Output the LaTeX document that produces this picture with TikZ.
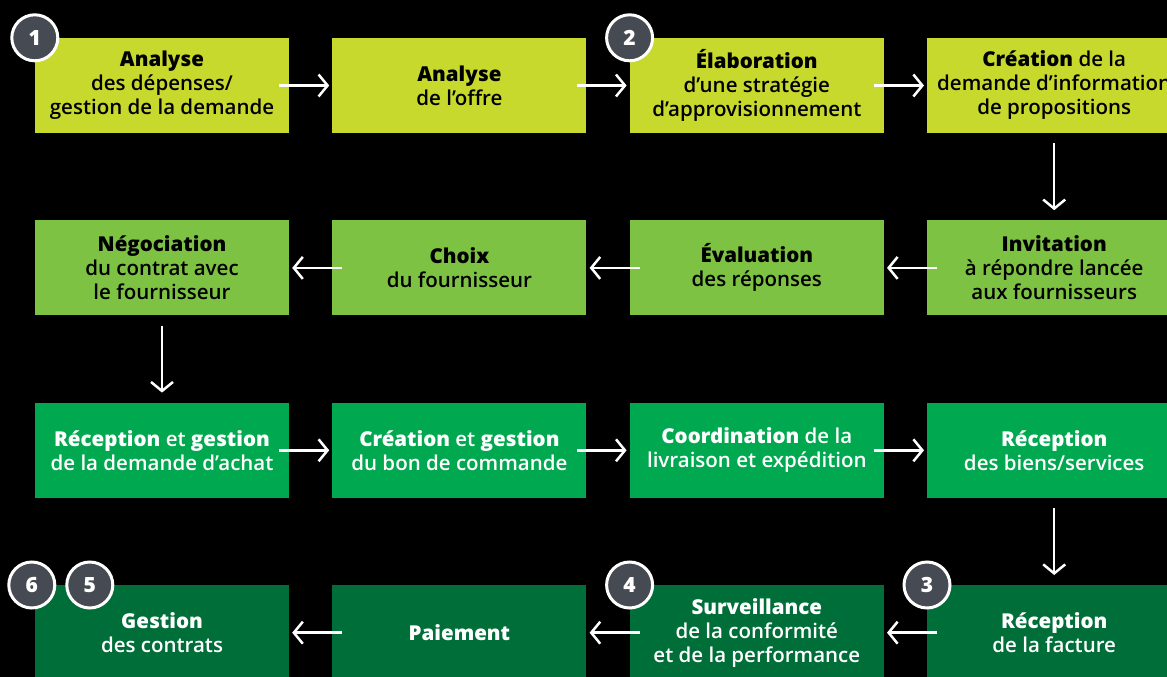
\documentclass[tikz,border=0pt]{standalone}
\usepackage{fontspec}
\IfFontExistsTF{Open Sans SemiBold}{\def\bodyface{Open Sans SemiBold}}
  {\IfFontExistsTF{Open Sans Semibold}{\def\bodyface{Open Sans Semibold}}{\def\bodyface{Open Sans}}}
\IfFontExistsTF{Open Sans ExtraBold}{\def\heavyface{Open Sans ExtraBold}}
  {\IfFontExistsTF{Open Sans Extrabold}{\def\heavyface{Open Sans Extrabold}}{\def\heavyface{Open Sans Bold}}}
\setmainfont{\bodyface}[BoldFont=\heavyface]
\usetikzlibrary{arrows.meta,positioning}

\definecolor{limegreen}{HTML}{C8D92E}
\definecolor{leafgreen}{HTML}{7DC242}
\definecolor{midgreen}{HTML}{00A94F}
\definecolor{darkgreen}{HTML}{006E38}
\definecolor{badgegray}{HTML}{464A52}

\begin{document}
\begin{tikzpicture}[x=1pt,y=-1pt,
  node distance=87pt and 43pt,
  stage/.style={rectangle,minimum width=254pt,minimum height=95pt,inner sep=0pt,
                align=center,font=\fontsize{20.5}{24}\selectfont},
  badge/.style={circle,draw=white,line width=3pt,fill=badgegray,minimum size=46pt,
                inner sep=0pt,text=white,font=\fontsize{21}{21}\selectfont\bfseries},
  flow/.style={draw=white,line width=2.5pt,-{Straight Barb[length=9pt,width=22pt]}}]

\useasboundingbox (0,0) rectangle (1167,677);
\clip (0,0) rectangle (1167,677);
\fill[black] (0,0) rectangle (1167,677);

% row 1
\node[stage,fill=limegreen] (a1) at (162,85.5) {\textbf{Analyse}\\des dépenses/\\gestion de la demande};
\node[stage,fill=limegreen,right=of a1] (a2) {\textbf{Analyse}\\de l’offre};
\node[stage,fill=limegreen,right=of a2] (a3) {\textbf{Élaboration}\\d’une stratégie\\d’approvisionnement};
\node[stage,fill=limegreen,right=of a3] (a4) {\textbf{Création} de la\\demande d’information\\de propositions};

% row 2
\node[stage,fill=leafgreen,below=of a4] (b4) {\textbf{Invitation}\\à répondre lancée\\aux fournisseurs};
\node[stage,fill=leafgreen,left=of b4] (b3) {\textbf{Évaluation}\\des réponses};
\node[stage,fill=leafgreen,left=of b3] (b2) {\textbf{Choix}\\du fournisseur};
\node[stage,fill=leafgreen,left=of b2] (b1) {\textbf{Négociation}\\du contrat avec\\le fournisseur};

% row 3
\node[stage,fill=midgreen,text=white,below=of b1] (c1) {\textbf{Réception} et \textbf{gestion}\\de la demande d’achat};
\node[stage,fill=midgreen,text=white,right=of c1] (c2) {\textbf{Création} et \textbf{gestion}\\du bon de commande};
\node[stage,fill=midgreen,text=white,right=of c2] (c3) {\textbf{Coordination} de la\\livraison et expédition};
\node[stage,fill=midgreen,text=white,right=of c3] (c4) {\textbf{Réception}\\des biens/services};

% row 4
\node[stage,fill=darkgreen,text=white,below=of c4] (d4) {\textbf{Réception}\\de la facture};
\node[stage,fill=darkgreen,text=white,left=of d4] (d3) {\textbf{Surveillance}\\de la conformité\\et de la performance};
\node[stage,fill=darkgreen,text=white,left=of d3] (d2) {\textbf{Paiement}};
\node[stage,fill=darkgreen,text=white,left=of d2] (d1) {\textbf{Gestion}\\des contrats};

% connectors
\draw[flow] ([xshift=-10pt]a1.east) -- ([xshift=-3pt]a2.west);
\draw[flow] ([xshift=-10pt]a2.east) -- ([xshift=-3pt]a3.west);
\draw[flow] ([xshift=-10pt]a3.east) -- ([xshift=-3pt]a4.west);
\draw[flow] ([yshift=-10pt]a4.south) -- ([yshift=10pt]b4.north);
\draw[flow] ([xshift=10pt]b4.west) -- ([xshift=3pt]b3.east);
\draw[flow] ([xshift=10pt]b3.west) -- ([xshift=3pt]b2.east);
\draw[flow] ([xshift=10pt]b2.west) -- ([xshift=3pt]b1.east);
\draw[flow] ([yshift=-10pt]b1.south) -- ([yshift=10pt]c1.north);
\draw[flow] ([xshift=-10pt]c1.east) -- ([xshift=-3pt]c2.west);
\draw[flow] ([xshift=-10pt]c2.east) -- ([xshift=-3pt]c3.west);
\draw[flow] ([xshift=-10pt]c3.east) -- ([xshift=-3pt]c4.west);
\draw[flow] ([yshift=-10pt]c4.south) -- ([yshift=10pt]d4.north);
\draw[flow] ([xshift=10pt]d4.west) -- ([xshift=3pt]d3.east);
\draw[flow] ([xshift=10pt]d3.west) -- ([xshift=3pt]d2.east);
\draw[flow] ([xshift=10pt]d2.west) -- ([xshift=3pt]d1.east);

% step numbers
\node[badge] (n1) at (a1.north west) {1};
\node[badge] (n2) at (a3.north west) {2};
\node[badge] (n3) at (d4.north west) {3};
\node[badge] (n4) at (d3.north west) {4};
\node[badge] (n6) at ([xshift=-3pt]d1.north west) {6};
\node[badge] (n5) at ([xshift=55pt]d1.north west) {5};

\end{tikzpicture}
\end{document}
